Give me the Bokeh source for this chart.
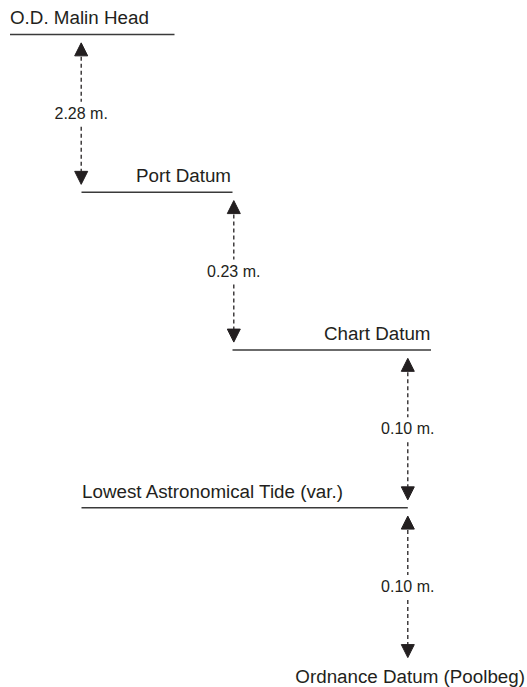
from bokeh.plotting import figure
from bokeh.models import Range1d, Arrow, NormalHead
from bokeh.embed import file_html
from bokeh.resources import INLINE
from bokeh.core.properties import value

# ---- data ----
datum_names = ["O.D. Malin Head", "Port Datum", "Chart Datum",
               "Lowest Astronomical Tide (var.)", "Ordnance Datum (Poolbeg)"]
datum_step = [0, 1, 2, 3, 4]
line_x0 = [9.5, 81, 232, 81]
line_x1 = [174, 232, 430.5, 407.3]
name_x = [9.5, 230.5, 430, 81.5, 524.5]
name_align = ["left", "right", "right", "left", "right"]
name_dy = [-16.5, -16.5, -16.5, -16.5, 11]

differences = [2.28, 0.23, 0.10, 0.10]
diff_x = [80.7, 233.3, 407.3, 407.3]
diff_labels = [f"{d:.2f} m." for d in differences]

INK = "#231f20"
FONT = value("Liberation Sans")

p = figure(width=527, height=687, output_backend="svg", toolbar_location=None,
           x_range=Range1d(0, 527), y_range=Range1d(4.1395, -0.2155),
           x_axis_location=None, y_axis_location=None, min_border=0)
p.outline_line_color = None
p.xgrid.visible = False
p.ygrid.visible = False
p.background_fill_color = "white"

# datum lines
p.segment(x0=line_x0, y0=datum_step[:4], x1=line_x1, y1=datum_step[:4],
          line_color="#3a3a3a", line_width=1.4)

# datum names
for align in ("left", "right"):
    idx = [i for i, a in enumerate(name_align) if a == align]
    p.text(x=[name_x[i] for i in idx], y=[datum_step[i] for i in idx],
           text=[datum_names[i] for i in idx], y_offset=[name_dy[i] for i in idx],
           text_align=align, text_baseline="alphabetic",
           text_font=FONT, text_font_size="18.8px", text_color=INK)

# arrows between datums
gap_top = 0.053
gap_bot = 0.050
for i in range(len(differences)):
    p.add_layout(Arrow(
        start=NormalHead(size=13, fill_color=INK, line_color=INK, line_width=1),
        end=NormalHead(size=13, fill_color=INK, line_color=INK, line_width=1),
        x_start=diff_x[i], y_start=datum_step[i] + gap_top,
        x_end=diff_x[i], y_end=datum_step[i + 1] - gap_bot,
        line_color=INK, line_width=1.3, line_dash="4 3"))

# difference labels (drawn above the dashed arrows)
mid = [(datum_step[i] + datum_step[i + 1]) / 2 for i in range(len(differences))]
r = p.text(x=diff_x, y=mid, text=diff_labels, text_align="center", text_baseline="middle",
           text_font=FONT, text_font_size="16px", text_color=INK,
           background_fill_color="white", padding=3)
r.level = "overlay"

open("out.html", "w").write(file_html(p, INLINE))
